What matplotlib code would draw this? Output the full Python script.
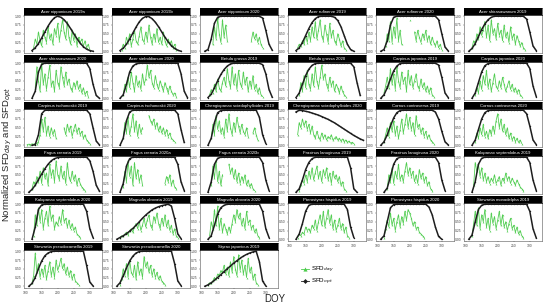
import numpy as np
import matplotlib.pyplot as plt
from matplotlib.lines import Line2D

plt.rcParams['font.family'] = ['Liberation Sans', 'DejaVu Sans']

# panel titles (facet order)
titles = [
    'Acer nipponicum 2019a', 'Acer nipponicum 2019b', 'Acer nipponicum 2020',
    'Acer rufinerve 2019', 'Acer rufinerve 2020', 'Acer shirasawanum 2019',
    'Acer shirasawanum 2020', 'Acer sieboldianum 2020', 'Betula grossa 2019',
    'Betula grossa 2020', 'Carpinus japonica 2019', 'Carpinus japonica 2020',
    'Carpinus tschonoskii 2019', 'Carpinus tschonoskii 2020',
    'Chengiopanax sciadophylloides 2019', 'Chengiopanax sciadophylloides 2020',
    'Cornus controversa 2019', 'Cornus controversa 2020',
    'Fagus crenata 2019', 'Fagus crenata 2020a', 'Fagus crenata 2020b',
    'Fraxinus lanuginosa 2019', 'Fraxinus lanuginosa 2020',
    'Kalopanax septemlobus 2019', 'Kalopanax septemlobus 2020',
    'Magnolia obovata 2019', 'Magnolia obovata 2020',
    'Pterostyrax hispidus 2019', 'Pterostyrax hispidus 2020',
    'Stewartia monadelpha 2019', 'Stewartia pseudocamellia 2019',
    'Stewartia pseudocamellia 2020', 'Styrax japonicus 2019',
]

# first DOY of each series; SFD_opt every 10 days, SFD_day every 5 days
opt_start = [120, 120, 110, 120, 110, 110, 120, 120, 120, 120, 110, 120,
             120, 120, 120, 120, 110, 120, 110, 120, 120, 120, 120, 120,
             120, 110, 120, 120, 110, 110, 110, 110, 110]
day_start = [125, 125, 135, 125, 125, 120, 130, 130, 125, 130, 120, 130,
             105, 130, 130, 125, 120, 130, 120, 130, 130, 130, 130, 125,
             125, 120, 125, 125, 120, 120, 120, 120, 120]

N = None
ONE = 1.0

opt01 = [0.02, 0.1, 0.22, 0.38, 0.55, 0.72, 0.86, 0.96, 1.0, 0.97, 0.9, 0.79, 0.65, 0.5, 0.36, 0.23, 0.13, 0.06, 0.02, 0.0]
day01 = [0.1, 0.35, 0.2, 0.55, 0.3, 0.15, 0.6, 0.4, 0.25, 0.7, 0.35, 0.5, 0.2, 0.65, 0.45, 0.8, 0.3, 0.6, 0.9, 0.55, 0.35, 0.85, 0.4, 0.2, 0.6, 0.3, 0.5, 0.15, 0.4, 0.25, 0.35, 0.15, 0.3, 0.1, 0.2, 0.05]

opt02 = [0.02, 0.09, 0.2, 0.35, 0.52, 0.69, 0.84, 0.94, 0.99, 0.99, 0.93, 0.83, 0.7, 0.55, 0.4, 0.27, 0.16, 0.08, 0.03, 0.0]
day02 = [0.05, 0.2, 0.1, 0.4, 0.25, 0.5, 0.15, 0.35, 0.6, 0.3, 0.2, 0.45, 0.7, 0.35, 0.25, 0.55, 0.3, 0.75, 0.4, 0.2, 0.5, 0.3, 0.65, 0.25, 0.4, 0.2, 0.55, 0.3, 0.15, 0.35, 0.2, 0.3, 0.1, 0.2, 0.05]

opt03 = [0.0, 0.05, 0.35, 0.8, 0.97] + [ONE] * 13 + [0.95, 0.6, 0.2, 0.03]
day03 = [0.2, 0.7, 0.35, 0.95, 0.5, 0.25, 0.9, 0.4, 0.75, 0.3] + [N] * 14 + [0.3, 0.55, 0.35, 0.5, 0.25, 0.4, 0.2, 0.1]

opt04 = [0.02, 0.1, 0.25, 0.45, 0.65, 0.82, 0.93, 0.99, 1.0, 1.0, 1.0, 1.0, 0.97, 0.88, 0.7, 0.45, 0.2, 0.05, 0.0]
day04 = [0.1, 0.2, 0.15, 0.3, 0.2, 0.45, 0.25, 0.55, 0.3, 0.7, 0.4, 0.85, 0.35, 0.6, 0.9, 0.45, 0.3, 0.75, 0.5, 0.25, 0.8, 0.4, 0.6, 0.3, 0.2, 0.5, 0.35, 0.15, 0.3, 0.1, 0.05]

opt05 = [0.0, 0.05, 0.3, 0.75, 0.97] + [ONE] * 13 + [0.9, 0.5, 0.12, 0.01]
day05 = [0.15, 0.5, 0.3, 0.85, 0.25, 0.7, 0.4, 0.95, 0.3, 0.6, 0.2, N, N, N, N, 0.9, N, N, 0.55, 0.3, 0.6, 0.4, 0.25, 0.5, 0.35, 0.6, 0.3, 0.45, 0.2, 0.4, 0.25, 0.15, 0.3, 0.1, 0.2, 0.05]

opt06 = [0.0, 0.08, 0.22, 0.42, 0.62, 0.78, 0.9, 0.97] + [ONE] * 10 + [0.92, 0.55, 0.15, 0.02]
day06 = [0.1, 0.3, 0.2, 0.5, 0.35, 0.7, 0.45, 0.6, 0.85, 0.4, 0.75, 0.3, 0.9, 0.5, 0.65, 0.35, 0.8, 0.45, 0.6, 0.3, 0.75, 0.4, 0.55, 0.25, 0.7, 0.35, 0.5, 0.2, 0.45, 0.3, 0.15, 0.25, 0.1, 0.05]

opt07 = [0.0, 0.2, 0.75, 0.97] + [ONE] * 14 + [0.85, 0.4, 0.08, 0.0]
day07 = [0.3, 0.9, 0.5, 0.2, 1.0, 0.4, 0.7, 0.25, 0.6, 0.95, 0.35, 0.5, 0.2, 0.8, 0.45, 0.3, 0.9, 0.6, 0.35, 0.75, 0.4, 0.55, 0.3, 0.2, 0.45, 0.3, 0.5, 0.25, 0.4, 0.15, 0.3, 0.1, 0.2, 0.05]

opt08 = [0.0, 0.1, 0.4, 0.75, 0.92, 0.98] + [ONE] * 13 + [0.7, 0.2, 0.02]
day08 = [0.1, 0.4, 0.2, 0.6, 0.3, 0.75, 0.45, 0.2, 0.65, 0.35, 0.5, 0.25, 0.7, 0.4, 0.55, 0.95, 0.6, 0.8, 0.45, 0.3, 0.65, 0.4, 0.25, 0.5, 0.35, 0.2, 0.45, 0.3, 0.15, 0.35, 0.2, 0.1, 0.15, 0.05]

opt09 = [0.02, 0.12, 0.3, 0.5, 0.68, 0.82, 0.92, 0.98] + [ONE] * 9 + [0.96, 0.7, 0.25, 0.03]
day09 = [0.1, 0.25, 0.15, 0.4, 0.2, 0.55, 0.3, 0.2, 0.45, 0.6, 0.35, 0.85, 0.5, 0.3, 0.9, 0.4, 0.7, 0.25, 0.8, 0.45, 0.3, 0.75, 0.4, 0.6, 0.2, 0.5, 0.3, 0.65, 0.25, 0.4, 0.15, 0.3, 0.1, 0.05]

opt10 = [0.02, 0.15, 0.4, 0.65, 0.83, 0.94, 0.99] + [ONE] * 11 + [0.9, 0.45, 0.08]
day10 = [0.1, 0.45, 0.2, 0.65, 0.3, 0.8, 0.4, 0.25, 0.7, 0.35, 0.9, 0.5, 0.3, 0.6, 0.95, 0.55, 0.7, 0.4, 0.25, 0.6, 0.35, 0.5, 0.2, 0.4, 0.3, 0.15, 0.35, 0.2, 0.1, 0.05]

opt11 = [0.0, 0.1, 0.3, 0.55, 0.78, 0.92, 0.99] + [ONE] * 11 + [0.95, 0.6, 0.15, 0.02]
day11 = [0.15, 0.35, 0.6, 0.3, 0.85, 0.4, 0.7, 0.25, 0.9, 0.5, 0.3, 0.75, 0.45, 0.6, 0.2, 0.8, 0.4, 0.65, 0.3, 0.5, 0.7, 0.35, 0.25, 0.55, 0.3, 0.45, 0.2, 0.35, 0.15, 0.3, 0.1, 0.05]

opt12 = [0.0, 0.15, 0.45, 0.75, 0.93, 0.99] + [ONE] * 12 + [0.85, 0.35, 0.05]
day12 = [0.1, 0.3, 0.15, 0.5, 0.25, 0.65, 0.4, 0.8, 0.3, 0.55, 0.2, 0.45, 0.7, 0.35, 0.25, 0.5, 0.3, 0.6, 0.4, 0.2, 0.35, 0.5, 0.25, 0.4, 0.2, 0.3, 0.15, 0.25, 0.1, 0.05]

opt13 = [0.0, 0.02, 0.3, 0.9] + [ONE] * 14 + [0.9, 0.5, 0.12, 0.01]
day13 = [0.02, 0.03, 0.02, 0.04, 0.03, 0.05, 0.04, 0.1, 0.3, 0.75, 0.4, 0.8, 0.3, 0.55, 0.25, 0.5, 0.3, 0.45, 0.2, N, N, N, N, 0.5, 0.3, 0.6, 0.4, 0.55, 0.25, 0.45, 0.6, 0.35, 0.5, 0.3, 0.4, 0.2, 0.3, 0.15, 0.1, 0.05]

opt14 = [0.0, 0.2, 0.7, 0.95] + [ONE] * 14 + [0.9, 0.45, 0.08]
day14 = [0.2, 0.65, 0.35, 0.8, 0.3, 0.55, 0.9, 0.4, 0.7, 0.25, 0.6, 0.35, 0.5, N, N, N, 0.85, 0.7, 0.6, 0.75, 0.5, 0.65, 0.4, 0.55, 0.35, 0.5, 0.3, 0.45, 0.25, 0.35, 0.2, 0.15, 0.1]

opt15 = [0.0, 0.2, 0.65, 0.93, 0.99] + [ONE] * 11 + [0.8, 0.3, 0.05]
day15 = [0.2, 0.6, 0.3, 0.85, 0.45, 0.7, 0.35, 0.5, 0.25, 0.75, 0.4, 0.9, 0.5, 0.3, 0.65, 0.4, 0.8, 0.55, 0.35, 0.6, 0.4, 0.3, 0.5, 0.25, N, N, 0.35, 0.5, 0.3, 0.15]

opt16 = [0.95, 1.0, 0.99, 0.97, 0.95, 0.92, 0.89, 0.86, 0.82, 0.78, 0.74, 0.69, 0.64, 0.58, 0.52, 0.46, 0.4, 0.34, 0.28, 0.23, 0.18, 0.14]
day16 = [0.3, 0.65, 0.5, 0.75, 0.55, 0.7, 0.45, 0.6, 0.35, 0.55, 0.3, 0.2, 0.4, 0.25, 0.15, 0.35, 0.2, 0.3, 0.15, 0.25, 0.2, 0.3, 0.15, 0.2, 0.25, 0.15, 0.2, 0.12, 0.18, 0.1, 0.15, 0.08, 0.12, 0.06, 0.08, 0.05]

opt17 = [0.0, 0.1, 0.3, 0.55, 0.78, 0.93, 0.99] + [ONE] * 10 + [0.95, 0.75, 0.4, 0.1, 0.01]
day17 = [0.1, 0.3, 0.5, 0.25, 0.65, 0.4, 0.7, 0.3, 0.55, 0.2, 0.45, 0.75, 0.35, 0.6, 0.9, 0.5, 0.8, 0.45, 0.65, 0.3, 0.85, 0.5, 0.6, 0.35, 0.5, 0.25, 0.4, 0.2, 0.3, 0.15, 0.1, 0.05]

opt18 = [0.0, 0.15, 0.45, 0.75, 0.93, 0.99] + [ONE] * 11 + [0.9, 0.55, 0.15, 0.02]
day18 = [0.1, 0.35, 0.2, 0.5, 0.3, 0.6, 0.25, 0.4, 0.2, 0.45, 0.3, 0.55, 0.35, 0.7, 0.9, 0.5, 0.75, 0.4, 0.6, 0.3, 0.5, 0.2, 0.35, 0.15, 0.25, 0.1, 0.2, 0.08, 0.15, 0.05]

opt19 = [0.0, 0.08, 0.2, 0.36, 0.52, 0.67, 0.8, 0.9, 0.96, 0.99] + [ONE] * 9 + [0.9, 0.6, 0.2, 0.03]
day19 = [0.1, 0.3, 0.2, 0.45, 0.3, 0.6, 0.25, 0.7, 0.4, 0.55, 0.2, 0.8, 0.45, 0.65, 0.3, 0.9, 0.5, 0.35, 0.75, 0.4, 0.6, 0.25, 0.85, 0.45, 0.3, 0.6, 0.35, 0.5, 0.2, 0.4, 0.25, 0.15, 0.1, 0.05]

opt20 = [0.0, 0.25, 0.75, 0.96] + [ONE] * 14 + [0.8, 0.3, 0.05]
day20 = [0.15, 0.6, 0.3, 0.9, 0.45, 0.75, 0.2, 0.85, 0.4, 0.65, 0.3, 0.5, 0.2] + [N] * 13 + [0.25, 0.45, 0.3, 0.5, 0.2, 0.35, 0.15, 0.1]

opt21 = [0.0, 0.3, 0.8, 0.97] + [ONE] * 13 + [0.85, 0.35, 0.05]
day21 = [0.2, 0.75, 0.4, 0.9, 0.3, 0.6, 0.2, 0.5, N, N, N, 0.8, 0.55, 0.7, 0.4, 0.65, 0.3, 0.55, 0.25, 0.45, 0.3, 0.5, 0.2, 0.35, 0.15, 0.25, 0.1, 0.05]

opt22 = [0.0, 0.1, 0.35, 0.65, 0.85, 0.96] + [ONE] * 11 + [0.7, 0.1, 0.0]
day22 = [0.05, 0.2, 0.35, 0.25, 0.5, 0.3, 0.6, 0.4, 0.7, 0.35, 0.55, 0.75, 0.4, 0.6, 0.3, 0.65, 0.45, 0.7, 0.35, 0.55, 0.25, 0.6, 0.4, 0.5, 0.3, 0.45, 0.2, 0.3, 0.1, 0.05]

opt23 = [0.0, 0.12, 0.45, 0.8, 0.96] + [ONE] * 12 + [0.85, 0.35, 0.05]
day23 = [0.1, 0.5, 0.3, 0.7, 0.25, 0.6, 0.4, 0.8, 0.35, 0.5, 0.3, 0.6, 0.85, 0.5, 0.7, 0.45, 0.6, 0.3, 0.5, 0.25, 0.65, 0.4, 0.55, 0.3, 0.45, 0.2, 0.3, 0.1, 0.05]

opt24 = [0.0, 0.3, 0.8, 0.97] + [ONE] * 14 + [0.85, 0.35, 0.05]
day24 = [0.2, 0.85, 0.6, 0.8, 0.45, 0.7, 0.35, 0.55, 0.3, 0.45, 0.25, 0.4, 0.3, 0.5, 0.25, 0.35, 0.45, 0.2, 0.4, 0.3, 0.55, 0.35, 0.45, 0.25, 0.4, 0.3, 0.2, 0.35, 0.25, 0.15, 0.1, 0.05]

opt25 = [0.0, 0.35, 0.85, 0.98] + [ONE] * 13 + [0.8, 0.3, 0.05]
day25 = [0.1, 0.7, 0.4, 0.9, 0.5, 0.85, 0.3, 0.6, 0.8, 0.4, 0.95, 0.55, 0.7, 0.3, 0.5, 0.4, 0.65, 0.45, 0.85, 0.5, 0.6, 0.35, 0.55, 0.3, 0.45, 0.25, 0.35, 0.15, 0.1, 0.05]

opt26 = [0.0, 0.05, 0.1, 0.16, 0.23, 0.31, 0.4, 0.5, 0.6, 0.69, 0.77, 0.84, 0.89, 0.93, 0.96, 0.98, 1.0, 0.95, 0.6, 0.15, 0.02]
day26 = [0.05, 0.1, 0.08, 0.15, 0.2, 0.12, 0.25, 0.3, 0.2, 0.35, 0.45, 0.3, 0.5, 0.25, 0.4, 0.6, 0.35, 0.55, 0.7, 0.4, 0.3, 0.65, 0.5, 0.75, 0.45, 0.3, 0.6, 0.4, 0.7, 0.35, 0.55, 0.25, 0.4, 0.15, 0.3, 0.1, 0.05]

opt27 = [0.0, 0.1, 0.4, 0.72, 0.9, 0.97] + [ONE] * 11 + [0.8, 0.3, 0.05]
day27 = [0.1, 0.5, 0.3, 0.85, 0.4, 0.95, 0.3, 0.6, 0.2, 0.45, 0.3, 0.15, 0.35, 0.2, 0.45, 0.7, 0.5, 0.85, 0.6, 0.75, 0.4, 0.6, 0.3, 0.8, 0.45, 0.55, 0.3, 0.4, 0.2, 0.3, 0.1, 0.05]

opt28 = [0.0, 0.15, 0.45, 0.8, 0.97] + [ONE] * 11 + [0.85, 0.35, 0.05]
day28 = [0.05, 0.15, 0.1, 0.2, 0.15, 0.35, 0.25, 0.3, 0.2, 0.4, 0.3, 0.55, 0.25, 0.5, 0.7, 0.4, 0.8, 0.35, 0.6, 0.85, 0.45, 0.7, 0.3, 0.55, 0.25, 0.4, 0.6, 0.3, 0.45, 0.2, 0.35, 0.1, 0.05]

opt29 = [0.0, 0.1, 0.5, 0.9, 0.99] + [ONE] * 10 + [0.92, 0.7, 0.35, 0.08, 0.0]
day29 = [0.05, 0.3, 0.55, 0.35, 0.75, 0.4, 0.6, 0.25, 0.5, 0.7, 0.35, 0.65, 0.45, 0.8, 0.55, 0.85, 0.75, 0.6, 0.4, 0.5, 0.3, 0.35, 0.2, 0.15, 0.1, 0.05]

opt30 = [0.0, 0.12, 0.5, 0.85, 0.97] + [ONE] * 14 + [0.8, 0.3, 0.04]
day30 = [0.1, 0.45, 0.8, 0.4, 0.9, 0.3, 0.7, 0.5, 0.85, 0.35, 0.6, 0.25, 0.75, 0.45, 0.65, 0.3, 0.55, 0.8, 0.4, 0.7, 0.35, 0.5, 0.25, 0.45, 0.6, 0.3, 0.4, 0.2, 0.35, 0.15, 0.25, 0.1, 0.05]

opt31 = [0.0, 0.08, 0.25, 0.5, 0.72, 0.87, 0.95, 0.99] + [ONE] * 10 + [0.6, 0.12, 0.01]
day31 = [0.1, 0.3, 0.95, 0.4, 0.65, 0.25, 0.5, 0.3, 0.6, 0.2, 0.45, 0.7, 0.3, 0.55, 0.25, 0.75, 0.45, 0.6, 0.8, 0.5, 0.65, 0.35, 0.55, 0.3, 0.45, 0.2, 0.35, 0.15, 0.1, 0.05]

opt32 = [0.0, 0.1, 0.3, 0.52, 0.72, 0.86, 0.95, 0.99] + [ONE] * 10 + [0.65, 0.15, 0.02]
day32 = [0.05, 0.2, 0.5, 0.3, 0.65, 0.25, 0.75, 0.4, 0.3, 0.6, 0.2, 0.7, 0.35, 0.5, 0.25, 0.85, 0.55, 0.7, 0.4, 0.6, 0.3, 0.5, 0.25, 0.4, 0.2, 0.3, 0.15, 0.1, 0.05]

opt33 = [0.0, 0.04, 0.1, 0.17, 0.25, 0.33, 0.42, 0.5, 0.58, 0.66, 0.73, 0.8, 0.86, 0.91, 0.95, 0.98, 1.0, 0.7, 0.15, 0.01]
day33 = [0.05, 0.1, 0.08, 0.15, 0.25, 0.2, 0.35, 0.3, 0.45, 0.4, 0.6, 0.35, 0.55, 0.3, 0.7, 0.4, 0.85, 0.5, 0.3, 0.9, 0.45, 0.75, 0.35, 0.6, 0.25, 0.8, 0.4, 0.55, 0.2, 0.35, 0.1, 0.05]

opt_series = [opt01, opt02, opt03, opt04, opt05, opt06, opt07, opt08, opt09, opt10, opt11,
              opt12, opt13, opt14, opt15, opt16, opt17, opt18, opt19, opt20, opt21, opt22,
              opt23, opt24, opt25, opt26, opt27, opt28, opt29, opt30, opt31, opt32, opt33]
day_series = [day01, day02, day03, day04, day05, day06, day07, day08, day09, day10, day11,
              day12, day13, day14, day15, day16, day17, day18, day19, day20, day21, day22,
              day23, day24, day25, day26, day27, day28, day29, day30, day31, day32, day33]

x_ticks = [100, 150, 200, 250, 300]
y_ticks = [0.0, 0.25, 0.5, 0.75, 1.0]

green = '#4ccc4c'
dark = '#1e1e1e'

W, H = 550.0, 308.0
fig = plt.figure(figsize=(W / 100, H / 100), dpi=100)

col_left = [24, 112, 200, 288, 376, 464]
row_top = [8, 55, 102, 149, 196, 243]
pw = 78
strip_h = 6.5
plot_h = 38.5
n = len(titles)

for i, title in enumerate(titles):
    r, c = divmod(i, 6)
    x0 = col_left[c]
    top = row_top[r]
    ax = fig.add_axes([x0 / W, 1 - (top + strip_h + plot_h) / H, pw / W, plot_h / H])
    st = fig.add_axes([x0 / W, 1 - (top + strip_h) / H, pw / W, strip_h / H])

    # strip
    st.set_facecolor('black')
    st.set_xticks([])
    st.set_yticks([])
    for s in st.spines.values():
        s.set_color('black')
        s.set_linewidth(0.4)
    st.text(0.5, 0.45, title, color='white', fontsize=3.1, ha='center', va='center',
            transform=st.transAxes)

    # SFD_day (green, noisy)
    dv = np.array(day_series[i], dtype=float)
    dx = day_start[i] + 5 * np.arange(len(dv))
    ax.plot(dx, dv, color=green, lw=0.6, marker='^', ms=1.3, mew=0, alpha=0.95, zorder=2)

    # SFD_opt (black, smooth)
    ov = np.array(opt_series[i], dtype=float)
    ox = opt_start[i] + 10 * np.arange(len(ov))
    ax.plot(ox, ov, color=dark, lw=1.1, marker='o', ms=1.0, mew=0, zorder=3)

    ax.set_xlim(95, 338)
    ax.set_ylim(-0.05, 1.05)
    ax.set_yticks(y_ticks)
    ax.set_yticklabels(['0.00', '0.25', '0.50', '0.75', '1.00'], fontsize=2.4, color='#444444')
    ax.tick_params(axis='both', length=1.0, width=0.3, pad=1.0, colors='#444444', labelsize=2.4)
    for s in ax.spines.values():
        s.set_color('#555555')
        s.set_linewidth(0.4)

    if i + 6 >= n:
        ax.set_xticks(x_ticks)
        ax.set_xticklabels([str(t) for t in x_ticks], fontsize=2.4, color='#444444')
    else:
        ax.set_xticks([])

fig.text(0.014, 0.5, 'Normalized SFD$_{day}$ and SFD$_{opt}$', rotation=90,
         ha='center', va='center', fontsize=6.8, color='#222222')
fig.text(0.5, 0.03, 'DOY', ha='center', va='center', fontsize=7, color='#222222')

handles = [
    Line2D([], [], color=green, lw=0.6, marker='^', ms=3, mew=0),
    Line2D([], [], color=dark, lw=0.6, marker='D', ms=2.5, mew=0),
]
fig.legend(handles, ['SFD$_{day}$', 'SFD$_{opt}$'], loc='upper left',
           bbox_to_anchor=(298 / W, 1 - 262 / H), frameon=False, fontsize=4.5,
           handlelength=1.2, handletextpad=0.4, labelspacing=0.3, borderpad=0)

fig.savefig('out.png', dpi=100)
